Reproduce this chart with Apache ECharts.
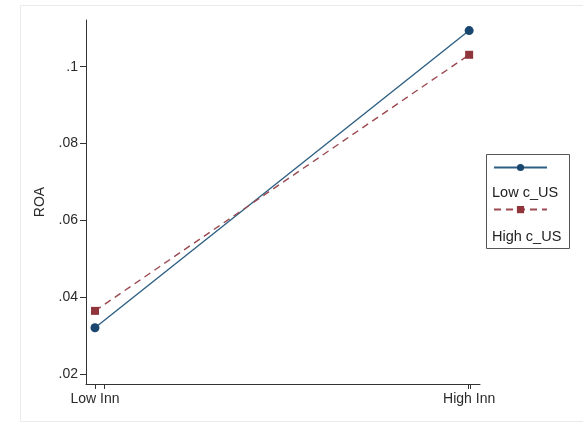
<!DOCTYPE html>
<html>
<head>
<meta charset="utf-8">
<script src="https://cdn.jsdelivr.net/npm/echarts@6/dist/echarts.min.js"></script>
<style>html,body{margin:0;padding:0;background:#fff;}#c{width:583px;height:427px;}</style>
</head>
<body>
<div id="c"></div>
<script>
var categories = ['Low Inn', 'High Inn'];
var xPositions = [0, 1];
var lowCUS = [0.0321, 0.1094];
var highCUS = [0.0365, 0.1031];
var seriesNames = ['Low c_US', 'High c_US'];
var yTicks = [0.02, 0.04, 0.06, 0.08, 0.1];
var yTickLabels = ['.02', '.04', '.06', '.08', '.1'];

var chart = echarts.init(document.getElementById('c'), null, {renderer: 'canvas'});
var font = 'Liberation Sans, Arial, Helvetica, sans-serif';
var axisColor = '#333';
function pairs(vals){ return vals.map(function(v,i){ return [xPositions[i], v]; }); }

chart.setOption({
  animation: false,
  backgroundColor: '#fff',
  textStyle: {fontFamily: font},
  grid: {left: 86, top: 20, right: 103, bottom: 43, containLabel: false},
  xAxis: {
    type: 'value', min: -0.024, max: 1.029,
    axisLine: {show: true, onZero: false, lineStyle: {color: axisColor, width: 1}},
    axisTick: {show: true, length: 5, lineStyle: {color: axisColor}, customValues: [0, 0.024, 0.997, 1.002]},
    axisLabel: {customValues: xPositions, color: '#2a2a2a', fontSize: 14, fontFamily: font, margin: 8,
      formatter: function(v){ var i = xPositions.indexOf(v); return i >= 0 ? categories[i] : ''; }},
    splitLine: {show: false}
  },
  yAxis: {
    type: 'value', min: 0.01748, max: 0.11215,
    name: 'ROA', nameLocation: 'middle', nameGap: 35,
    nameTextStyle: {color: '#2a2a2a', fontSize: 14, fontFamily: font},
    axisLine: {show: true, onZero: false, lineStyle: {color: axisColor, width: 1}},
    axisTick: {show: true, length: 6, lineStyle: {color: axisColor}, customValues: yTicks},
    axisLabel: {customValues: yTicks, color: '#2a2a2a', fontSize: 14, fontFamily: font, margin: 8,
      formatter: function(v){ var i = -1; for (var k=0;k<yTicks.length;k++){ if (Math.abs(yTicks[k]-v)<1e-9) i=k; } return i>=0 ? yTickLabels[i] : ''; }},
    splitLine: {show: false}
  },
  legend: {
    orient: 'vertical', left: 493, top: 163, itemWidth: 53, itemHeight: 9, itemGap: 34,
    formatter: function(){ return ''; },
    data: seriesNames,
    padding: 0
  },
  graphic: [
    {type: 'rect', shape: {x: 20.5, y: 5.5, width: 600, height: 416}, style: {fill: 'none', stroke: '#eaeaea', lineWidth: 1}, silent: true, z: -1},
    {type: 'rect', shape: {x: 486.5, y: 154.5, width: 83, height: 94}, style: {fill: 'none', stroke: '#555', lineWidth: 1}, silent: true},
    {type: 'text', left: 492, top: 185, style: {text: seriesNames[0], fill: '#222', font: '14.5px ' + font}, silent: true},
    {type: 'text', left: 492, top: 229, style: {text: seriesNames[1], fill: '#222', font: '14.5px ' + font}, silent: true}
  ],
  series: [
    {name: seriesNames[0], type: 'line', data: pairs(lowCUS), symbol: 'circle', symbolSize: 9,
      itemStyle: {color: '#1a476f'}, lineStyle: {color: '#2e5f82', width: 1.4, type: 'solid'}},
    {name: seriesNames[1], type: 'line', data: pairs(highCUS), symbol: 'rect', symbolSize: 8,
      itemStyle: {color: '#90353b'}, lineStyle: {color: '#9a4a50', width: 1.4, type: [7, 5]}}
  ]
});
</script>
</body>
</html>
